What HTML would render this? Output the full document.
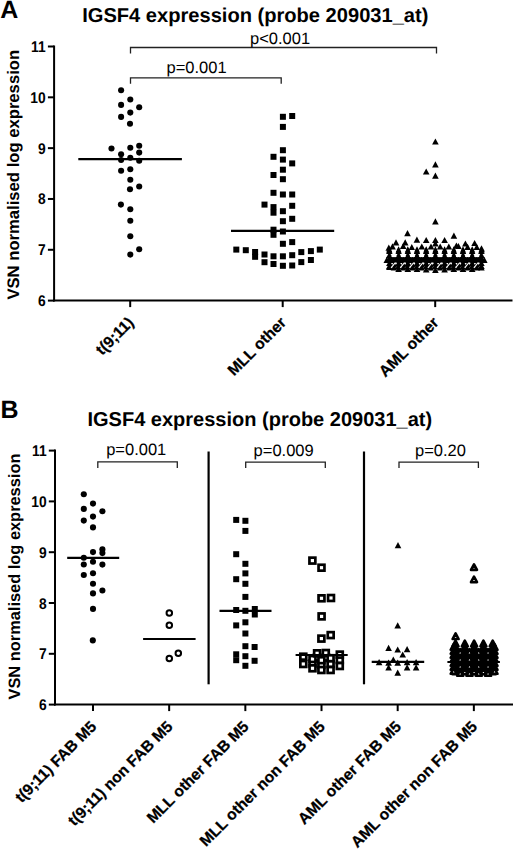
<!DOCTYPE html>
<html><head><meta charset="utf-8"><style>
html,body{margin:0;padding:0;background:#fff;}
svg{display:block;}
</style></head><body>
<svg width="520" height="855" viewBox="0 0 520 855" font-family='"Liberation Sans", sans-serif' fill="#000" text-rendering="geometricPrecision">
<rect width="520" height="855" fill="#fff"/>
<text x="0.2" y="18.1" font-size="25" font-weight="bold">A</text>
<text x="255.3" y="21.9" text-anchor="middle" font-size="20.1" font-weight="bold">IGSF4 expression (probe 209031_at)</text>
<text transform="translate(18.8 299.6) rotate(-90)" font-size="16.65" font-weight="bold">VSN normalised log expression</text>
<line x1="54.1" y1="45.5" x2="54.1" y2="301.6" stroke="#000" stroke-width="2"/>
<line x1="53.1" y1="300.6" x2="512.5" y2="300.6" stroke="#000" stroke-width="2"/>
<line x1="47.9" y1="300.6" x2="54.1" y2="300.6" stroke="#000" stroke-width="2"/>
<text transform="translate(45.70 306.10) scale(0.89 1)" text-anchor="end" font-size="15.5" font-weight="bold">6</text>
<line x1="47.9" y1="249.78000000000003" x2="54.1" y2="249.78000000000003" stroke="#000" stroke-width="2"/>
<text transform="translate(45.70 255.28) scale(0.89 1)" text-anchor="end" font-size="15.5" font-weight="bold">7</text>
<line x1="47.9" y1="198.96" x2="54.1" y2="198.96" stroke="#000" stroke-width="2"/>
<text transform="translate(45.70 204.46) scale(0.89 1)" text-anchor="end" font-size="15.5" font-weight="bold">8</text>
<line x1="47.9" y1="148.14000000000001" x2="54.1" y2="148.14000000000001" stroke="#000" stroke-width="2"/>
<text transform="translate(45.70 153.64) scale(0.89 1)" text-anchor="end" font-size="15.5" font-weight="bold">9</text>
<line x1="47.9" y1="97.32" x2="54.1" y2="97.32" stroke="#000" stroke-width="2"/>
<text transform="translate(45.70 102.82) scale(0.89 1)" text-anchor="end" font-size="15.5" font-weight="bold">10</text>
<line x1="47.9" y1="46.50000000000003" x2="54.1" y2="46.50000000000003" stroke="#000" stroke-width="2"/>
<text transform="translate(45.70 52.00) scale(0.89 1)" text-anchor="end" font-size="15.5" font-weight="bold">11</text>
<line x1="130.2" y1="300.6" x2="130.2" y2="307.1" stroke="#000" stroke-width="2"/>
<line x1="282.7" y1="300.6" x2="282.7" y2="307.1" stroke="#000" stroke-width="2"/>
<line x1="435.2" y1="300.6" x2="435.2" y2="307.1" stroke="#000" stroke-width="2"/>
<path d="M130.5 53.5V47.5H436.5V53.5" fill="none" stroke="#222" stroke-width="1.3"/>
<path d="M130.5 83.8V77.8H281.2V83.8" fill="none" stroke="#222" stroke-width="1.3"/>
<text x="250" y="44" font-size="16.5">p&lt;0.001</text>
<text x="166.5" y="72.7" font-size="16.5">p=0.001</text>
<circle cx="121.1" cy="90.3" r="3.05"/>
<circle cx="130.3" cy="99.5" r="3.05"/>
<circle cx="121.1" cy="104.9" r="3.05"/>
<circle cx="139.2" cy="107.2" r="3.05"/>
<circle cx="130.3" cy="112.6" r="3.05"/>
<circle cx="121.1" cy="116.9" r="3.05"/>
<circle cx="130.0" cy="123.7" r="3.05"/>
<circle cx="111.5" cy="148.5" r="3.05"/>
<circle cx="130.3" cy="147.7" r="3.05"/>
<circle cx="139.2" cy="145.7" r="3.05"/>
<circle cx="121.1" cy="154.3" r="3.05"/>
<circle cx="139.2" cy="152.6" r="3.05"/>
<circle cx="130.3" cy="157.7" r="3.05"/>
<circle cx="121.1" cy="160.0" r="3.05"/>
<circle cx="139.2" cy="160.8" r="3.05"/>
<circle cx="121.1" cy="170.8" r="3.05"/>
<circle cx="130.3" cy="169.2" r="3.05"/>
<circle cx="130.3" cy="179.7" r="3.05"/>
<circle cx="139.2" cy="186.5" r="3.05"/>
<circle cx="130.0" cy="189.2" r="3.05"/>
<circle cx="120.9" cy="204.6" r="3.05"/>
<circle cx="130.3" cy="209.2" r="3.05"/>
<circle cx="130.3" cy="220.8" r="3.05"/>
<circle cx="130.3" cy="236.2" r="3.05"/>
<circle cx="139.2" cy="249.2" r="3.05"/>
<circle cx="130.3" cy="254.6" r="3.05"/>
<line x1="78.3" y1="159.2" x2="181.9" y2="159.2" stroke="#000" stroke-width="2.2"/>
<rect x="279.90" y="113.80" width="6.0" height="6.0"/>
<rect x="289.20" y="113.00" width="6.0" height="6.0"/>
<rect x="279.90" y="123.90" width="6.0" height="6.0"/>
<rect x="279.90" y="147.20" width="6.0" height="6.0"/>
<rect x="270.50" y="153.80" width="6.0" height="6.0"/>
<rect x="279.90" y="156.60" width="6.0" height="6.0"/>
<rect x="289.20" y="160.40" width="6.0" height="6.0"/>
<rect x="279.90" y="166.70" width="6.0" height="6.0"/>
<rect x="270.50" y="172.00" width="6.0" height="6.0"/>
<rect x="279.90" y="176.20" width="6.0" height="6.0"/>
<rect x="270.50" y="189.80" width="6.0" height="6.0"/>
<rect x="279.90" y="191.50" width="6.0" height="6.0"/>
<rect x="289.20" y="191.50" width="6.0" height="6.0"/>
<rect x="261.50" y="201.60" width="6.0" height="6.0"/>
<rect x="270.50" y="204.10" width="6.0" height="6.0"/>
<rect x="270.50" y="209.70" width="6.0" height="6.0"/>
<rect x="289.20" y="202.80" width="6.0" height="6.0"/>
<rect x="279.90" y="208.20" width="6.0" height="6.0"/>
<rect x="279.90" y="218.20" width="6.0" height="6.0"/>
<rect x="289.20" y="215.80" width="6.0" height="6.0"/>
<rect x="270.50" y="226.70" width="6.0" height="6.0"/>
<rect x="270.50" y="231.80" width="6.0" height="6.0"/>
<rect x="279.90" y="228.50" width="6.0" height="6.0"/>
<rect x="279.90" y="240.80" width="6.0" height="6.0"/>
<rect x="289.20" y="239.10" width="6.0" height="6.0"/>
<rect x="233.30" y="246.60" width="6.0" height="6.0"/>
<rect x="242.80" y="247.20" width="6.0" height="6.0"/>
<rect x="252.10" y="249.00" width="6.0" height="6.0"/>
<rect x="252.10" y="253.80" width="6.0" height="6.0"/>
<rect x="261.50" y="251.50" width="6.0" height="6.0"/>
<rect x="261.50" y="259.20" width="6.0" height="6.0"/>
<rect x="270.50" y="253.30" width="6.0" height="6.0"/>
<rect x="270.50" y="261.00" width="6.0" height="6.0"/>
<rect x="279.90" y="253.30" width="6.0" height="6.0"/>
<rect x="279.90" y="262.80" width="6.0" height="6.0"/>
<rect x="289.20" y="252.20" width="6.0" height="6.0"/>
<rect x="289.20" y="262.50" width="6.0" height="6.0"/>
<rect x="298.30" y="249.10" width="6.0" height="6.0"/>
<rect x="298.30" y="259.10" width="6.0" height="6.0"/>
<rect x="307.90" y="248.10" width="6.0" height="6.0"/>
<rect x="307.90" y="257.00" width="6.0" height="6.0"/>
<rect x="316.80" y="246.60" width="6.0" height="6.0"/>
<line x1="231.0" y1="230.8" x2="334.2" y2="230.8" stroke="#000" stroke-width="2.2"/>
<path d="M435.40 138.40L438.70 144.60L432.10 144.60Z"/>
<path d="M435.40 161.20L438.70 167.40L432.10 167.40Z"/>
<path d="M426.20 168.40L429.50 174.60L422.90 174.60Z"/>
<path d="M435.40 172.60L438.70 178.80L432.10 178.80Z"/>
<path d="M435.40 218.20L438.70 224.40L432.10 224.40Z"/>
<path d="M407.50 230.10L410.80 236.30L404.20 236.30Z"/>
<path d="M453.90 232.50L457.20 238.70L450.60 238.70Z"/>
<path d="M416.90 236.50L420.20 242.70L413.60 242.70Z"/>
<path d="M426.20 236.90L429.50 243.10L422.90 243.10Z"/>
<path d="M435.40 236.90L438.70 243.10L432.10 243.10Z"/>
<path d="M444.60 236.90L447.90 243.10L441.30 243.10Z"/>
<path d="M396.00 239.30L399.30 245.50L392.70 245.50Z"/>
<path d="M405.20 239.30L408.50 245.50L401.90 245.50Z"/>
<path d="M465.40 240.40L468.70 246.60L462.10 246.60Z"/>
<path d="M474.60 239.90L477.90 246.10L471.30 246.10Z"/>
<path d="M435.40 240.40L438.70 246.60L432.10 246.60Z"/>
<path d="M392.50 243.20L395.80 249.40L389.20 249.40Z"/>
<path d="M403.20 242.90L406.50 249.10L399.90 249.10Z"/>
<path d="M411.80 244.10L415.10 250.30L408.50 250.30Z"/>
<path d="M421.80 243.40L425.10 249.60L418.50 249.60Z"/>
<path d="M431.00 243.40L434.30 249.60L427.70 249.60Z"/>
<path d="M440.20 243.40L443.50 249.60L436.90 249.60Z"/>
<path d="M448.80 243.40L452.10 249.60L445.50 249.60Z"/>
<path d="M456.40 242.40L459.70 248.60L453.10 248.60Z"/>
<path d="M458.40 242.90L461.70 249.10L455.10 249.10Z"/>
<path d="M467.60 243.70L470.90 249.90L464.30 249.90Z"/>
<path d="M476.80 243.90L480.10 250.10L473.50 250.10Z"/>
<path d="M481.50 245.20L484.80 251.40L478.20 251.40Z"/>
<path d="M388.80 244.60L392.10 250.80L385.50 250.80Z"/>
<path d="M389.40 246.20L392.70 252.40L386.10 252.40Z"/>
<path d="M389.40 247.70L392.70 253.90L386.10 253.90Z"/>
<path d="M389.40 251.80L392.70 258.00L386.10 258.00Z"/>
<path d="M389.40 256.70L392.70 262.90L386.10 262.90Z"/>
<path d="M389.40 259.90L392.70 266.10L386.10 266.10Z"/>
<path d="M389.40 262.90L392.70 269.10L386.10 269.10Z"/>
<path d="M389.40 263.90L392.70 270.10L386.10 270.10Z"/>
<path d="M398.60 246.20L401.90 252.40L395.30 252.40Z"/>
<path d="M398.60 247.70L401.90 253.90L395.30 253.90Z"/>
<path d="M398.60 251.80L401.90 258.00L395.30 258.00Z"/>
<path d="M398.60 256.70L401.90 262.90L395.30 262.90Z"/>
<path d="M398.60 259.90L401.90 266.10L395.30 266.10Z"/>
<path d="M398.60 262.90L401.90 269.10L395.30 269.10Z"/>
<path d="M398.60 265.90L401.90 272.10L395.30 272.10Z"/>
<path d="M407.80 246.20L411.10 252.40L404.50 252.40Z"/>
<path d="M407.80 247.70L411.10 253.90L404.50 253.90Z"/>
<path d="M407.80 251.80L411.10 258.00L404.50 258.00Z"/>
<path d="M407.80 256.70L411.10 262.90L404.50 262.90Z"/>
<path d="M407.80 259.90L411.10 266.10L404.50 266.10Z"/>
<path d="M407.80 262.90L411.10 269.10L404.50 269.10Z"/>
<path d="M407.80 265.90L411.10 272.10L404.50 272.10Z"/>
<path d="M417.00 246.20L420.30 252.40L413.70 252.40Z"/>
<path d="M417.00 247.70L420.30 253.90L413.70 253.90Z"/>
<path d="M417.00 251.80L420.30 258.00L413.70 258.00Z"/>
<path d="M417.00 256.70L420.30 262.90L413.70 262.90Z"/>
<path d="M417.00 259.90L420.30 266.10L413.70 266.10Z"/>
<path d="M417.00 262.90L420.30 269.10L413.70 269.10Z"/>
<path d="M417.00 265.90L420.30 272.10L413.70 272.10Z"/>
<path d="M426.20 246.20L429.50 252.40L422.90 252.40Z"/>
<path d="M426.20 247.70L429.50 253.90L422.90 253.90Z"/>
<path d="M426.20 251.80L429.50 258.00L422.90 258.00Z"/>
<path d="M426.20 256.70L429.50 262.90L422.90 262.90Z"/>
<path d="M426.20 259.90L429.50 266.10L422.90 266.10Z"/>
<path d="M426.20 262.90L429.50 269.10L422.90 269.10Z"/>
<path d="M426.20 266.40L429.50 272.60L422.90 272.60Z"/>
<path d="M435.40 246.20L438.70 252.40L432.10 252.40Z"/>
<path d="M435.40 247.70L438.70 253.90L432.10 253.90Z"/>
<path d="M435.40 251.80L438.70 258.00L432.10 258.00Z"/>
<path d="M435.40 256.70L438.70 262.90L432.10 262.90Z"/>
<path d="M435.40 259.90L438.70 266.10L432.10 266.10Z"/>
<path d="M435.40 262.90L438.70 269.10L432.10 269.10Z"/>
<path d="M435.40 266.90L438.70 273.10L432.10 273.10Z"/>
<path d="M444.60 246.20L447.90 252.40L441.30 252.40Z"/>
<path d="M444.60 247.70L447.90 253.90L441.30 253.90Z"/>
<path d="M444.60 251.80L447.90 258.00L441.30 258.00Z"/>
<path d="M444.60 256.70L447.90 262.90L441.30 262.90Z"/>
<path d="M444.60 259.90L447.90 266.10L441.30 266.10Z"/>
<path d="M444.60 262.90L447.90 269.10L441.30 269.10Z"/>
<path d="M444.60 266.40L447.90 272.60L441.30 272.60Z"/>
<path d="M453.80 246.20L457.10 252.40L450.50 252.40Z"/>
<path d="M453.80 247.70L457.10 253.90L450.50 253.90Z"/>
<path d="M453.80 251.80L457.10 258.00L450.50 258.00Z"/>
<path d="M453.80 256.70L457.10 262.90L450.50 262.90Z"/>
<path d="M453.80 259.90L457.10 266.10L450.50 266.10Z"/>
<path d="M453.80 262.90L457.10 269.10L450.50 269.10Z"/>
<path d="M453.80 265.90L457.10 272.10L450.50 272.10Z"/>
<path d="M463.00 246.20L466.30 252.40L459.70 252.40Z"/>
<path d="M463.00 247.70L466.30 253.90L459.70 253.90Z"/>
<path d="M463.00 251.80L466.30 258.00L459.70 258.00Z"/>
<path d="M463.00 256.70L466.30 262.90L459.70 262.90Z"/>
<path d="M463.00 259.90L466.30 266.10L459.70 266.10Z"/>
<path d="M463.00 262.90L466.30 269.10L459.70 269.10Z"/>
<path d="M463.00 265.90L466.30 272.10L459.70 272.10Z"/>
<path d="M472.20 246.20L475.50 252.40L468.90 252.40Z"/>
<path d="M472.20 247.70L475.50 253.90L468.90 253.90Z"/>
<path d="M472.20 251.80L475.50 258.00L468.90 258.00Z"/>
<path d="M472.20 256.70L475.50 262.90L468.90 262.90Z"/>
<path d="M472.20 259.90L475.50 266.10L468.90 266.10Z"/>
<path d="M472.20 262.90L475.50 269.10L468.90 269.10Z"/>
<path d="M472.20 265.90L475.50 272.10L468.90 272.10Z"/>
<path d="M481.40 246.20L484.70 252.40L478.10 252.40Z"/>
<path d="M481.40 247.70L484.70 253.90L478.10 253.90Z"/>
<path d="M481.40 251.80L484.70 258.00L478.10 258.00Z"/>
<path d="M481.40 256.70L484.70 262.90L478.10 262.90Z"/>
<path d="M481.40 259.90L484.70 266.10L478.10 266.10Z"/>
<path d="M481.40 262.90L484.70 269.10L478.10 269.10Z"/>
<path d="M481.40 264.40L484.70 270.60L478.10 270.60Z"/>
<path d="M394.00 256.70L397.30 262.90L390.70 262.90Z"/>
<path d="M403.20 256.70L406.50 262.90L399.90 262.90Z"/>
<path d="M412.40 256.70L415.70 262.90L409.10 262.90Z"/>
<path d="M421.60 256.70L424.90 262.90L418.30 262.90Z"/>
<path d="M430.80 256.70L434.10 262.90L427.50 262.90Z"/>
<path d="M440.00 256.70L443.30 262.90L436.70 262.90Z"/>
<path d="M449.20 256.70L452.50 262.90L445.90 262.90Z"/>
<path d="M458.40 256.70L461.70 262.90L455.10 262.90Z"/>
<path d="M467.60 256.70L470.90 262.90L464.30 262.90Z"/>
<path d="M476.80 256.70L480.10 262.90L473.50 262.90Z"/>
<path d="M386.80 256.70L390.10 262.90L383.50 262.90Z"/>
<path d="M484.30 256.70L487.60 262.90L481.00 262.90Z"/>
<path d="M394.00 261.40L397.30 267.60L390.70 267.60Z"/>
<path d="M394.00 264.40L397.30 270.60L390.70 270.60Z"/>
<path d="M403.20 261.40L406.50 267.60L399.90 267.60Z"/>
<path d="M403.20 264.40L406.50 270.60L399.90 270.60Z"/>
<path d="M412.40 261.40L415.70 267.60L409.10 267.60Z"/>
<path d="M412.40 264.40L415.70 270.60L409.10 270.60Z"/>
<path d="M421.60 261.40L424.90 267.60L418.30 267.60Z"/>
<path d="M421.60 264.40L424.90 270.60L418.30 270.60Z"/>
<path d="M430.80 261.40L434.10 267.60L427.50 267.60Z"/>
<path d="M430.80 264.40L434.10 270.60L427.50 270.60Z"/>
<path d="M440.00 261.40L443.30 267.60L436.70 267.60Z"/>
<path d="M440.00 264.40L443.30 270.60L436.70 270.60Z"/>
<path d="M449.20 261.40L452.50 267.60L445.90 267.60Z"/>
<path d="M449.20 264.40L452.50 270.60L445.90 270.60Z"/>
<path d="M458.40 261.40L461.70 267.60L455.10 267.60Z"/>
<path d="M458.40 264.40L461.70 270.60L455.10 270.60Z"/>
<path d="M467.60 261.40L470.90 267.60L464.30 267.60Z"/>
<path d="M467.60 264.40L470.90 270.60L464.30 270.60Z"/>
<path d="M476.80 261.40L480.10 267.60L473.50 267.60Z"/>
<path d="M476.80 264.40L480.10 270.60L473.50 270.60Z"/>
<path d="M391.40 249.9H396.60L395.20 253.6L396.60 257.0H391.40L392.80 253.6Z" fill="#fff"/>
<path d="M400.60 249.9H405.80L404.40 253.6L405.80 257.0H400.60L402.00 253.6Z" fill="#fff"/>
<path d="M409.80 249.9H415.00L413.60 253.6L415.00 257.0H409.80L411.20 253.6Z" fill="#fff"/>
<path d="M419.00 249.9H424.20L422.80 253.6L424.20 257.0H419.00L420.40 253.6Z" fill="#fff"/>
<path d="M428.20 249.9H433.40L432.00 253.6L433.40 257.0H428.20L429.60 253.6Z" fill="#fff"/>
<path d="M437.40 249.9H442.60L441.20 253.6L442.60 257.0H437.40L438.80 253.6Z" fill="#fff"/>
<path d="M446.60 249.9H451.80L450.40 253.6L451.80 257.0H446.60L448.00 253.6Z" fill="#fff"/>
<path d="M455.80 249.9H461.00L459.60 253.6L461.00 257.0H455.80L457.20 253.6Z" fill="#fff"/>
<path d="M465.00 249.9H470.20L468.80 253.6L470.20 257.0H465.00L466.40 253.6Z" fill="#fff"/>
<path d="M474.20 249.9H479.40L478.00 253.6L479.40 257.0H474.20L475.60 253.6Z" fill="#fff"/>
<rect x="387.5" y="257.2" width="96" height="5.6"/>
<path d="M391.10 267.9L395.00 263.0H396.60" fill="none" stroke="#fff" stroke-width="1.2"/>
<path d="M400.30 267.9L404.20 263.0H405.80" fill="none" stroke="#fff" stroke-width="1.2"/>
<path d="M409.50 267.9L413.40 263.0H415.00" fill="none" stroke="#fff" stroke-width="1.2"/>
<path d="M418.70 267.9L422.60 263.0H424.20" fill="none" stroke="#fff" stroke-width="1.2"/>
<path d="M427.90 267.9L431.80 263.0H433.40" fill="none" stroke="#fff" stroke-width="1.2"/>
<path d="M437.10 267.9L441.00 263.0H442.60" fill="none" stroke="#fff" stroke-width="1.2"/>
<path d="M446.30 267.9L450.20 263.0H451.80" fill="none" stroke="#fff" stroke-width="1.2"/>
<path d="M455.50 267.9L459.40 263.0H461.00" fill="none" stroke="#fff" stroke-width="1.2"/>
<path d="M464.70 267.9L468.60 263.0H470.20" fill="none" stroke="#fff" stroke-width="1.2"/>
<path d="M473.90 267.9L477.80 263.0H479.40" fill="none" stroke="#fff" stroke-width="1.2"/>
<text x="134.60" y="323.50" text-anchor="end" font-size="15.6" font-weight="bold" stroke="#000" stroke-width="0.25" transform="rotate(-45 134.60 323.50)">t(9;11)</text>
<text x="287.10" y="323.50" text-anchor="end" font-size="15.6" font-weight="bold" stroke="#000" stroke-width="0.25" transform="rotate(-45 287.10 323.50)">MLL other</text>
<text x="439.60" y="323.50" text-anchor="end" font-size="15.6" font-weight="bold" stroke="#000" stroke-width="0.25" transform="rotate(-45 439.60 323.50)">AML other</text>
<text x="0.6" y="418.1" font-size="25" font-weight="bold">B</text>
<text x="259.8" y="425.8" text-anchor="middle" font-size="20.0" font-weight="bold">IGSF4 expression (probe 209031_at)</text>
<text transform="translate(19.5 699.5) rotate(-90)" font-size="16.4" font-weight="bold">VSN normalised log expression</text>
<line x1="55.0" y1="449.6" x2="55.0" y2="705.6" stroke="#000" stroke-width="2"/>
<line x1="54.0" y1="704.6" x2="513.0" y2="704.6" stroke="#000" stroke-width="2"/>
<line x1="48.8" y1="704.6" x2="55.0" y2="704.6" stroke="#000" stroke-width="2"/>
<text transform="translate(46.60 710.10) scale(0.89 1)" text-anchor="end" font-size="15.5" font-weight="bold">6</text>
<line x1="48.8" y1="653.8000000000001" x2="55.0" y2="653.8000000000001" stroke="#000" stroke-width="2"/>
<text transform="translate(46.60 659.30) scale(0.89 1)" text-anchor="end" font-size="15.5" font-weight="bold">7</text>
<line x1="48.8" y1="603.0" x2="55.0" y2="603.0" stroke="#000" stroke-width="2"/>
<text transform="translate(46.60 608.50) scale(0.89 1)" text-anchor="end" font-size="15.5" font-weight="bold">8</text>
<line x1="48.8" y1="552.2" x2="55.0" y2="552.2" stroke="#000" stroke-width="2"/>
<text transform="translate(46.60 557.70) scale(0.89 1)" text-anchor="end" font-size="15.5" font-weight="bold">9</text>
<line x1="48.8" y1="501.40000000000003" x2="55.0" y2="501.40000000000003" stroke="#000" stroke-width="2"/>
<text transform="translate(46.60 506.90) scale(0.89 1)" text-anchor="end" font-size="15.5" font-weight="bold">10</text>
<line x1="48.8" y1="450.6" x2="55.0" y2="450.6" stroke="#000" stroke-width="2"/>
<text transform="translate(46.60 456.10) scale(0.89 1)" text-anchor="end" font-size="15.5" font-weight="bold">11</text>
<line x1="93.0" y1="704.6" x2="93.0" y2="711.1" stroke="#000" stroke-width="2"/>
<line x1="169.17000000000002" y1="704.6" x2="169.17000000000002" y2="711.1" stroke="#000" stroke-width="2"/>
<line x1="245.34" y1="704.6" x2="245.34" y2="711.1" stroke="#000" stroke-width="2"/>
<line x1="321.51" y1="704.6" x2="321.51" y2="711.1" stroke="#000" stroke-width="2"/>
<line x1="397.68" y1="704.6" x2="397.68" y2="711.1" stroke="#000" stroke-width="2"/>
<line x1="473.85" y1="704.6" x2="473.85" y2="711.1" stroke="#000" stroke-width="2"/>
<line x1="208.6" y1="451.5" x2="208.6" y2="684.3" stroke="#000" stroke-width="2.2"/>
<line x1="364.0" y1="451.5" x2="364.0" y2="684.3" stroke="#000" stroke-width="2.2"/>
<path d="M97.8 467.9V461.9H177.3V467.9" fill="none" stroke="#222" stroke-width="1.3"/>
<path d="M245.7 468.1V462.1H325.3V468.1" fill="none" stroke="#222" stroke-width="1.3"/>
<path d="M399.0 468.1V462.1H478.4V468.1" fill="none" stroke="#222" stroke-width="1.3"/>
<text x="106.2" y="455" font-size="16.5">p=0.001</text>
<text x="253.6" y="456" font-size="16.5">p=0.009</text>
<text x="415" y="456" font-size="16.5">p=0.20</text>
<circle cx="83.8" cy="494.2" r="3.05"/>
<circle cx="93.0" cy="503.6" r="3.05"/>
<circle cx="83.8" cy="508.9" r="3.05"/>
<circle cx="102.4" cy="511.2" r="3.05"/>
<circle cx="93.0" cy="516.6" r="3.05"/>
<circle cx="83.8" cy="520.6" r="3.05"/>
<circle cx="93.0" cy="527.4" r="3.05"/>
<circle cx="93.0" cy="552.1" r="3.05"/>
<circle cx="102.4" cy="549.4" r="3.05"/>
<circle cx="102.4" cy="553.1" r="3.05"/>
<circle cx="83.8" cy="557.8" r="3.05"/>
<circle cx="93.0" cy="561.8" r="3.05"/>
<circle cx="83.8" cy="564.5" r="3.05"/>
<circle cx="102.4" cy="564.6" r="3.05"/>
<circle cx="83.8" cy="575.0" r="3.05"/>
<circle cx="93.0" cy="573.2" r="3.05"/>
<circle cx="93.0" cy="583.7" r="3.05"/>
<circle cx="102.4" cy="590.5" r="3.05"/>
<circle cx="93.0" cy="593.4" r="3.05"/>
<circle cx="93.0" cy="608.9" r="3.05"/>
<circle cx="92.8" cy="640.4" r="3.05"/>
<line x1="67.2" y1="557.8" x2="119.2" y2="557.8" stroke="#000" stroke-width="2.2"/>
<circle cx="169.3" cy="613.1" r="2.75" fill="#fff" stroke="#000" stroke-width="2.0"/>
<circle cx="169.3" cy="625.2" r="2.75" fill="#fff" stroke="#000" stroke-width="2.0"/>
<circle cx="169.3" cy="658.5" r="2.75" fill="#fff" stroke="#000" stroke-width="2.0"/>
<circle cx="178.3" cy="653.2" r="2.75" fill="#fff" stroke="#000" stroke-width="2.0"/>
<line x1="143.1" y1="639.0" x2="195.6" y2="639.0" stroke="#000" stroke-width="2.2"/>
<rect x="233.20" y="516.90" width="6.0" height="6.0"/>
<rect x="242.40" y="517.80" width="6.0" height="6.0"/>
<rect x="242.40" y="527.90" width="6.0" height="6.0"/>
<rect x="233.20" y="551.20" width="6.0" height="6.0"/>
<rect x="242.40" y="560.80" width="6.0" height="6.0"/>
<rect x="242.40" y="570.40" width="6.0" height="6.0"/>
<rect x="233.20" y="576.20" width="6.0" height="6.0"/>
<rect x="242.40" y="580.80" width="6.0" height="6.0"/>
<rect x="242.40" y="593.90" width="6.0" height="6.0"/>
<rect x="233.20" y="607.00" width="6.0" height="6.0"/>
<rect x="242.40" y="607.80" width="6.0" height="6.0"/>
<rect x="251.80" y="606.00" width="6.0" height="6.0"/>
<rect x="251.80" y="611.50" width="6.0" height="6.0"/>
<rect x="233.20" y="622.40" width="6.0" height="6.0"/>
<rect x="242.40" y="619.30" width="6.0" height="6.0"/>
<rect x="242.40" y="630.50" width="6.0" height="6.0"/>
<rect x="242.40" y="643.20" width="6.0" height="6.0"/>
<rect x="251.60" y="644.00" width="6.0" height="6.0"/>
<rect x="233.20" y="651.30" width="6.0" height="6.0"/>
<rect x="233.20" y="657.20" width="6.0" height="6.0"/>
<rect x="242.40" y="653.20" width="6.0" height="6.0"/>
<rect x="251.60" y="657.80" width="6.0" height="6.0"/>
<rect x="242.40" y="662.80" width="6.0" height="6.0"/>
<line x1="219.5" y1="610.9" x2="271.5" y2="610.9" stroke="#000" stroke-width="2.2"/>
<rect x="309.55" y="660.55" width="5.9" height="5.9" fill="#fff" stroke="#000" stroke-width="2.7"/>
<rect x="318.45" y="662.05" width="5.9" height="5.9" fill="#fff" stroke="#000" stroke-width="2.7"/>
<rect x="327.65" y="661.05" width="5.9" height="5.9" fill="#fff" stroke="#000" stroke-width="2.7"/>
<rect x="323.05" y="654.55" width="5.9" height="5.9" fill="#fff" stroke="#000" stroke-width="2.7"/>
<rect x="314.05" y="654.55" width="5.9" height="5.9" fill="#fff" stroke="#000" stroke-width="2.7"/>
<rect x="336.85" y="657.05" width="5.9" height="5.9" fill="#fff" stroke="#000" stroke-width="2.7"/>
<rect x="309.45" y="557.65" width="5.9" height="5.9" fill="#fff" stroke="#000" stroke-width="2.7"/>
<rect x="318.55" y="564.75" width="5.9" height="5.9" fill="#fff" stroke="#000" stroke-width="2.7"/>
<rect x="318.55" y="595.35" width="5.9" height="5.9" fill="#fff" stroke="#000" stroke-width="2.7"/>
<rect x="328.05" y="595.05" width="5.9" height="5.9" fill="#fff" stroke="#000" stroke-width="2.7"/>
<rect x="318.65" y="613.45" width="5.9" height="5.9" fill="#fff" stroke="#000" stroke-width="2.7"/>
<rect x="327.75" y="632.15" width="5.9" height="5.9" fill="#fff" stroke="#000" stroke-width="2.7"/>
<rect x="318.45" y="635.65" width="5.9" height="5.9" fill="#fff" stroke="#000" stroke-width="2.7"/>
<rect x="300.35" y="653.75" width="5.9" height="5.9" fill="#fff" stroke="#000" stroke-width="2.7"/>
<rect x="300.35" y="661.05" width="5.9" height="5.9" fill="#fff" stroke="#000" stroke-width="2.7"/>
<rect x="309.55" y="656.05" width="5.9" height="5.9" fill="#fff" stroke="#000" stroke-width="2.7"/>
<rect x="309.55" y="665.35" width="5.9" height="5.9" fill="#fff" stroke="#000" stroke-width="2.7"/>
<rect x="314.15" y="650.35" width="5.9" height="5.9" fill="#fff" stroke="#000" stroke-width="2.7"/>
<rect x="322.85" y="650.05" width="5.9" height="5.9" fill="#fff" stroke="#000" stroke-width="2.7"/>
<rect x="318.45" y="657.25" width="5.9" height="5.9" fill="#fff" stroke="#000" stroke-width="2.7"/>
<rect x="318.45" y="667.05" width="5.9" height="5.9" fill="#fff" stroke="#000" stroke-width="2.7"/>
<rect x="327.65" y="655.25" width="5.9" height="5.9" fill="#fff" stroke="#000" stroke-width="2.7"/>
<rect x="327.65" y="667.05" width="5.9" height="5.9" fill="#fff" stroke="#000" stroke-width="2.7"/>
<rect x="336.85" y="651.65" width="5.9" height="5.9" fill="#fff" stroke="#000" stroke-width="2.7"/>
<rect x="336.85" y="663.05" width="5.9" height="5.9" fill="#fff" stroke="#000" stroke-width="2.7"/>
<line x1="295.6" y1="655.0" x2="347.7" y2="655.0" stroke="#000" stroke-width="2.2"/>
<path d="M398.00 542.00L401.30 548.20L394.70 548.20Z"/>
<path d="M397.70 622.20L401.00 628.40L394.40 628.40Z"/>
<path d="M388.60 644.70L391.90 650.90L385.30 650.90Z"/>
<path d="M397.70 646.40L401.00 652.60L394.40 652.60Z"/>
<path d="M407.10 646.00L410.40 652.20L403.80 652.20Z"/>
<path d="M402.70 651.40L406.00 657.60L399.40 657.60Z"/>
<path d="M393.30 656.40L396.60 662.60L390.00 662.60Z"/>
<path d="M379.10 659.10L382.40 665.30L375.80 665.30Z"/>
<path d="M388.60 659.50L391.90 665.70L385.30 665.70Z"/>
<path d="M397.70 659.50L401.00 665.70L394.40 665.70Z"/>
<path d="M407.10 659.10L410.40 665.30L403.80 665.30Z"/>
<path d="M416.10 659.10L419.40 665.30L412.80 665.30Z"/>
<path d="M388.60 664.20L391.90 670.40L385.30 670.40Z"/>
<path d="M407.10 664.20L410.40 670.40L403.80 670.40Z"/>
<path d="M416.10 664.20L419.40 670.40L412.80 670.40Z"/>
<path d="M397.70 669.60L401.00 675.80L394.40 675.80Z"/>
<line x1="371.7" y1="661.9" x2="424.2" y2="661.9" stroke="#000" stroke-width="2.2"/>
<path d="M474.00 564.30L477.00 569.90L471.00 569.90Z" fill="#fff" stroke="#000" stroke-width="2.6" stroke-linejoin="round"/>
<path d="M474.00 576.60L477.00 582.20L471.00 582.20Z" fill="#fff" stroke="#000" stroke-width="2.6" stroke-linejoin="round"/>
<path d="M455.60 633.40L458.60 639.00L452.60 639.00Z" fill="#fff" stroke="#000" stroke-width="2.6" stroke-linejoin="round"/>
<path d="M455.50 640.70L458.50 646.30L452.50 646.30Z" fill="#fff" stroke="#000" stroke-width="2.6" stroke-linejoin="round"/>
<path d="M464.80 640.70L467.80 646.30L461.80 646.30Z" fill="#fff" stroke="#000" stroke-width="2.6" stroke-linejoin="round"/>
<path d="M474.10 640.70L477.10 646.30L471.10 646.30Z" fill="#fff" stroke="#000" stroke-width="2.6" stroke-linejoin="round"/>
<path d="M483.40 640.70L486.40 646.30L480.40 646.30Z" fill="#fff" stroke="#000" stroke-width="2.6" stroke-linejoin="round"/>
<path d="M492.70 640.70L495.70 646.30L489.70 646.30Z" fill="#fff" stroke="#000" stroke-width="2.6" stroke-linejoin="round"/>
<path d="M455.50 644.20L458.50 649.80L452.50 649.80Z" fill="#fff" stroke="#000" stroke-width="2.6" stroke-linejoin="round"/>
<path d="M464.80 644.20L467.80 649.80L461.80 649.80Z" fill="#fff" stroke="#000" stroke-width="2.6" stroke-linejoin="round"/>
<path d="M474.10 644.20L477.10 649.80L471.10 649.80Z" fill="#fff" stroke="#000" stroke-width="2.6" stroke-linejoin="round"/>
<path d="M483.40 644.20L486.40 649.80L480.40 649.80Z" fill="#fff" stroke="#000" stroke-width="2.6" stroke-linejoin="round"/>
<path d="M492.70 644.20L495.70 649.80L489.70 649.80Z" fill="#fff" stroke="#000" stroke-width="2.6" stroke-linejoin="round"/>
<path d="M455.50 647.70L458.50 653.30L452.50 653.30Z" fill="#fff" stroke="#000" stroke-width="2.6" stroke-linejoin="round"/>
<path d="M464.80 647.70L467.80 653.30L461.80 653.30Z" fill="#fff" stroke="#000" stroke-width="2.6" stroke-linejoin="round"/>
<path d="M474.10 647.70L477.10 653.30L471.10 653.30Z" fill="#fff" stroke="#000" stroke-width="2.6" stroke-linejoin="round"/>
<path d="M483.40 647.70L486.40 653.30L480.40 653.30Z" fill="#fff" stroke="#000" stroke-width="2.6" stroke-linejoin="round"/>
<path d="M492.70 647.70L495.70 653.30L489.70 653.30Z" fill="#fff" stroke="#000" stroke-width="2.6" stroke-linejoin="round"/>
<path d="M455.50 651.20L458.50 656.80L452.50 656.80Z" fill="#fff" stroke="#000" stroke-width="2.6" stroke-linejoin="round"/>
<path d="M464.80 651.20L467.80 656.80L461.80 656.80Z" fill="#fff" stroke="#000" stroke-width="2.6" stroke-linejoin="round"/>
<path d="M474.10 651.20L477.10 656.80L471.10 656.80Z" fill="#fff" stroke="#000" stroke-width="2.6" stroke-linejoin="round"/>
<path d="M483.40 651.20L486.40 656.80L480.40 656.80Z" fill="#fff" stroke="#000" stroke-width="2.6" stroke-linejoin="round"/>
<path d="M492.70 651.20L495.70 656.80L489.70 656.80Z" fill="#fff" stroke="#000" stroke-width="2.6" stroke-linejoin="round"/>
<path d="M455.50 654.70L458.50 660.30L452.50 660.30Z" fill="#fff" stroke="#000" stroke-width="2.6" stroke-linejoin="round"/>
<path d="M464.80 654.70L467.80 660.30L461.80 660.30Z" fill="#fff" stroke="#000" stroke-width="2.6" stroke-linejoin="round"/>
<path d="M474.10 654.70L477.10 660.30L471.10 660.30Z" fill="#fff" stroke="#000" stroke-width="2.6" stroke-linejoin="round"/>
<path d="M483.40 654.70L486.40 660.30L480.40 660.30Z" fill="#fff" stroke="#000" stroke-width="2.6" stroke-linejoin="round"/>
<path d="M492.70 654.70L495.70 660.30L489.70 660.30Z" fill="#fff" stroke="#000" stroke-width="2.6" stroke-linejoin="round"/>
<path d="M455.50 658.20L458.50 663.80L452.50 663.80Z" fill="#fff" stroke="#000" stroke-width="2.6" stroke-linejoin="round"/>
<path d="M464.80 658.20L467.80 663.80L461.80 663.80Z" fill="#fff" stroke="#000" stroke-width="2.6" stroke-linejoin="round"/>
<path d="M474.10 658.20L477.10 663.80L471.10 663.80Z" fill="#fff" stroke="#000" stroke-width="2.6" stroke-linejoin="round"/>
<path d="M483.40 658.20L486.40 663.80L480.40 663.80Z" fill="#fff" stroke="#000" stroke-width="2.6" stroke-linejoin="round"/>
<path d="M492.70 658.20L495.70 663.80L489.70 663.80Z" fill="#fff" stroke="#000" stroke-width="2.6" stroke-linejoin="round"/>
<path d="M455.50 661.70L458.50 667.30L452.50 667.30Z" fill="#fff" stroke="#000" stroke-width="2.6" stroke-linejoin="round"/>
<path d="M464.80 661.70L467.80 667.30L461.80 667.30Z" fill="#fff" stroke="#000" stroke-width="2.6" stroke-linejoin="round"/>
<path d="M474.10 661.70L477.10 667.30L471.10 667.30Z" fill="#fff" stroke="#000" stroke-width="2.6" stroke-linejoin="round"/>
<path d="M483.40 661.70L486.40 667.30L480.40 667.30Z" fill="#fff" stroke="#000" stroke-width="2.6" stroke-linejoin="round"/>
<path d="M492.70 661.70L495.70 667.30L489.70 667.30Z" fill="#fff" stroke="#000" stroke-width="2.6" stroke-linejoin="round"/>
<path d="M455.50 665.20L458.50 670.80L452.50 670.80Z" fill="#fff" stroke="#000" stroke-width="2.6" stroke-linejoin="round"/>
<path d="M464.80 665.20L467.80 670.80L461.80 670.80Z" fill="#fff" stroke="#000" stroke-width="2.6" stroke-linejoin="round"/>
<path d="M474.10 665.20L477.10 670.80L471.10 670.80Z" fill="#fff" stroke="#000" stroke-width="2.6" stroke-linejoin="round"/>
<path d="M483.40 665.20L486.40 670.80L480.40 670.80Z" fill="#fff" stroke="#000" stroke-width="2.6" stroke-linejoin="round"/>
<path d="M492.70 665.20L495.70 670.80L489.70 670.80Z" fill="#fff" stroke="#000" stroke-width="2.6" stroke-linejoin="round"/>
<path d="M455.50 668.70L458.50 674.30L452.50 674.30Z" fill="#fff" stroke="#000" stroke-width="2.6" stroke-linejoin="round"/>
<path d="M464.80 668.70L467.80 674.30L461.80 674.30Z" fill="#fff" stroke="#000" stroke-width="2.6" stroke-linejoin="round"/>
<path d="M474.10 668.70L477.10 674.30L471.10 674.30Z" fill="#fff" stroke="#000" stroke-width="2.6" stroke-linejoin="round"/>
<path d="M483.40 668.70L486.40 674.30L480.40 674.30Z" fill="#fff" stroke="#000" stroke-width="2.6" stroke-linejoin="round"/>
<path d="M492.70 668.70L495.70 674.30L489.70 674.30Z" fill="#fff" stroke="#000" stroke-width="2.6" stroke-linejoin="round"/>
<path d="M460.15 649.20L463.15 654.80L457.15 654.80Z" fill="#fff" stroke="#000" stroke-width="2.6" stroke-linejoin="round"/>
<path d="M469.45 649.20L472.45 654.80L466.45 654.80Z" fill="#fff" stroke="#000" stroke-width="2.6" stroke-linejoin="round"/>
<path d="M478.75 649.20L481.75 654.80L475.75 654.80Z" fill="#fff" stroke="#000" stroke-width="2.6" stroke-linejoin="round"/>
<path d="M488.05 649.20L491.05 654.80L485.05 654.80Z" fill="#fff" stroke="#000" stroke-width="2.6" stroke-linejoin="round"/>
<path d="M460.15 656.20L463.15 661.80L457.15 661.80Z" fill="#fff" stroke="#000" stroke-width="2.6" stroke-linejoin="round"/>
<path d="M469.45 656.20L472.45 661.80L466.45 661.80Z" fill="#fff" stroke="#000" stroke-width="2.6" stroke-linejoin="round"/>
<path d="M478.75 656.20L481.75 661.80L475.75 661.80Z" fill="#fff" stroke="#000" stroke-width="2.6" stroke-linejoin="round"/>
<path d="M488.05 656.20L491.05 661.80L485.05 661.80Z" fill="#fff" stroke="#000" stroke-width="2.6" stroke-linejoin="round"/>
<path d="M460.15 663.20L463.15 668.80L457.15 668.80Z" fill="#fff" stroke="#000" stroke-width="2.6" stroke-linejoin="round"/>
<path d="M469.45 663.20L472.45 668.80L466.45 668.80Z" fill="#fff" stroke="#000" stroke-width="2.6" stroke-linejoin="round"/>
<path d="M478.75 663.20L481.75 668.80L475.75 668.80Z" fill="#fff" stroke="#000" stroke-width="2.6" stroke-linejoin="round"/>
<path d="M488.05 663.20L491.05 668.80L485.05 668.80Z" fill="#fff" stroke="#000" stroke-width="2.6" stroke-linejoin="round"/>
<path d="M460.15 670.20L463.15 675.80L457.15 675.80Z" fill="#fff" stroke="#000" stroke-width="2.6" stroke-linejoin="round"/>
<path d="M469.45 670.20L472.45 675.80L466.45 675.80Z" fill="#fff" stroke="#000" stroke-width="2.6" stroke-linejoin="round"/>
<path d="M478.75 670.20L481.75 675.80L475.75 675.80Z" fill="#fff" stroke="#000" stroke-width="2.6" stroke-linejoin="round"/>
<path d="M488.05 670.20L491.05 675.80L485.05 675.80Z" fill="#fff" stroke="#000" stroke-width="2.6" stroke-linejoin="round"/>
<path d="M453.70 644.20L456.70 649.80L450.70 649.80Z" fill="#fff" stroke="#000" stroke-width="2.6" stroke-linejoin="round"/>
<path d="M494.50 644.20L497.50 649.80L491.50 649.80Z" fill="#fff" stroke="#000" stroke-width="2.6" stroke-linejoin="round"/>
<path d="M453.70 648.20L456.70 653.80L450.70 653.80Z" fill="#fff" stroke="#000" stroke-width="2.6" stroke-linejoin="round"/>
<path d="M494.50 648.20L497.50 653.80L491.50 653.80Z" fill="#fff" stroke="#000" stroke-width="2.6" stroke-linejoin="round"/>
<path d="M453.70 652.20L456.70 657.80L450.70 657.80Z" fill="#fff" stroke="#000" stroke-width="2.6" stroke-linejoin="round"/>
<path d="M494.50 652.20L497.50 657.80L491.50 657.80Z" fill="#fff" stroke="#000" stroke-width="2.6" stroke-linejoin="round"/>
<path d="M453.70 656.20L456.70 661.80L450.70 661.80Z" fill="#fff" stroke="#000" stroke-width="2.6" stroke-linejoin="round"/>
<path d="M494.50 656.20L497.50 661.80L491.50 661.80Z" fill="#fff" stroke="#000" stroke-width="2.6" stroke-linejoin="round"/>
<path d="M453.70 660.20L456.70 665.80L450.70 665.80Z" fill="#fff" stroke="#000" stroke-width="2.6" stroke-linejoin="round"/>
<path d="M494.50 660.20L497.50 665.80L491.50 665.80Z" fill="#fff" stroke="#000" stroke-width="2.6" stroke-linejoin="round"/>
<path d="M453.70 664.20L456.70 669.80L450.70 669.80Z" fill="#fff" stroke="#000" stroke-width="2.6" stroke-linejoin="round"/>
<path d="M494.50 664.20L497.50 669.80L491.50 669.80Z" fill="#fff" stroke="#000" stroke-width="2.6" stroke-linejoin="round"/>
<path d="M453.70 668.20L456.70 673.80L450.70 673.80Z" fill="#fff" stroke="#000" stroke-width="2.6" stroke-linejoin="round"/>
<path d="M494.50 668.20L497.50 673.80L491.50 673.80Z" fill="#fff" stroke="#000" stroke-width="2.6" stroke-linejoin="round"/>
<line x1="447.4" y1="662.0" x2="499.9" y2="662.0" stroke="#000" stroke-width="2.2"/>
<text x="97.40" y="727.50" text-anchor="end" font-size="15.6" font-weight="bold" stroke="#000" stroke-width="0.25" transform="rotate(-45 97.40 727.50)">t(9;11) FAB M5</text>
<text x="173.57" y="727.50" text-anchor="end" font-size="15.6" font-weight="bold" stroke="#000" stroke-width="0.25" transform="rotate(-45 173.57 727.50)">t(9;11) non FAB M5</text>
<text x="249.74" y="727.50" text-anchor="end" font-size="15.6" font-weight="bold" stroke="#000" stroke-width="0.25" transform="rotate(-45 249.74 727.50)">MLL other FAB M5</text>
<text x="325.91" y="727.50" text-anchor="end" font-size="15.6" font-weight="bold" stroke="#000" stroke-width="0.25" transform="rotate(-45 325.91 727.50)">MLL other non FAB M5</text>
<text x="402.08" y="727.50" text-anchor="end" font-size="15.6" font-weight="bold" stroke="#000" stroke-width="0.25" transform="rotate(-45 402.08 727.50)">AML other FAB M5</text>
<text x="478.25" y="727.50" text-anchor="end" font-size="15.6" font-weight="bold" stroke="#000" stroke-width="0.25" transform="rotate(-45 478.25 727.50)">AML other non FAB M5</text>
</svg>
</body></html>
